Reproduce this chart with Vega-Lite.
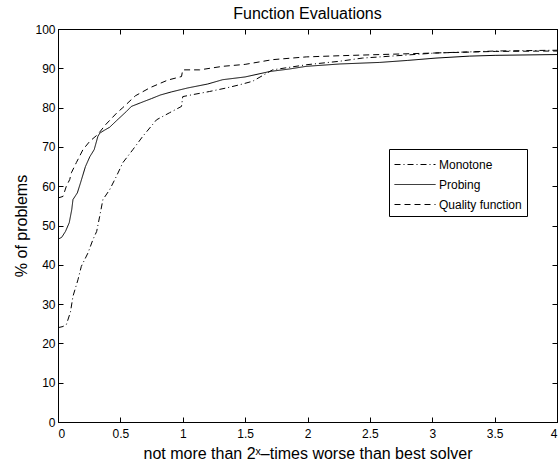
{
 "$schema": "https://vega.github.io/schema/vega-lite/v6.json",
 "width": 499,
 "height": 393,
 "autosize": {"type": "none"},
 "padding": {"left": 58, "top": 29, "right": 3, "bottom": 48},
 "background": "white",
 "config": {
  "font": "Liberation Sans",
  "view": {"stroke": "black", "strokeWidth": 1},
  "axis": {
   "grid": false, "domainColor": "black", "tickColor": "black", "tickSize": -5,
   "labelColor": "black", "labelFontSize": 12, "titleColor": "black",
   "titleFontSize": 16, "titleFontWeight": "normal"
  },
  "legend": {"labelFontSize": 12, "labelColor": "black"}
 },
 "title": {"text": "Function Evaluations", "fontSize": 16, "fontWeight": "normal", "color": "black", "offset": 1},
 "data": {"values": [
  {"series":"Probing","x":0,"y":46.5},{"series":"Probing","x":0.03,"y":47},{"series":"Probing","x":0.06,"y":48.5},{"series":"Probing","x":0.09,"y":50.7},{"series":"Probing","x":0.11,"y":54},{"series":"Probing","x":0.12,"y":56.6},{"series":"Probing","x":0.155,"y":58.3},{"series":"Probing","x":0.18,"y":60.8},{"series":"Probing","x":0.22,"y":65},{"series":"Probing","x":0.255,"y":67.5},{"series":"Probing","x":0.29,"y":69.3},{"series":"Probing","x":0.32,"y":72.7},{"series":"Probing","x":0.335,"y":73.5},{"series":"Probing","x":0.37,"y":74.2},{"series":"Probing","x":0.414,"y":75},{"series":"Probing","x":0.47,"y":76.7},{"series":"Probing","x":0.548,"y":79},{"series":"Probing","x":0.588,"y":80.3},{"series":"Probing","x":0.66,"y":81.2},{"series":"Probing","x":0.75,"y":82.3},{"series":"Probing","x":0.82,"y":83.2},{"series":"Probing","x":0.91,"y":84},{"series":"Probing","x":1.04,"y":85},{"series":"Probing","x":1.2,"y":86},{"series":"Probing","x":1.32,"y":87.1},{"series":"Probing","x":1.5,"y":87.8},{"series":"Probing","x":1.7,"y":89.2},{"series":"Probing","x":1.85,"y":89.8},{"series":"Probing","x":1.99,"y":90.5},{"series":"Probing","x":2.26,"y":91.1},{"series":"Probing","x":2.58,"y":91.5},{"series":"Probing","x":2.8,"y":92},{"series":"Probing","x":3.03,"y":92.6},{"series":"Probing","x":3.3,"y":93.1},{"series":"Probing","x":3.51,"y":93.3},{"series":"Probing","x":4,"y":93.5},
  {"series":"Quality function","x":0,"y":57},{"series":"Quality function","x":0.04,"y":57.4},{"series":"Quality function","x":0.067,"y":60},{"series":"Quality function","x":0.094,"y":61.7},{"series":"Quality function","x":0.107,"y":63.4},{"series":"Quality function","x":0.147,"y":66},{"series":"Quality function","x":0.2,"y":69.3},{"series":"Quality function","x":0.254,"y":71.4},{"series":"Quality function","x":0.32,"y":73.2},{"series":"Quality function","x":0.38,"y":75.6},{"series":"Quality function","x":0.47,"y":78.6},{"series":"Quality function","x":0.52,"y":80},{"series":"Quality function","x":0.62,"y":83},{"series":"Quality function","x":0.74,"y":85.1},{"series":"Quality function","x":0.88,"y":87},{"series":"Quality function","x":0.99,"y":87.9},{"series":"Quality function","x":1.0,"y":89.6},{"series":"Quality function","x":1.135,"y":89.6},{"series":"Quality function","x":1.32,"y":90.5},{"series":"Quality function","x":1.5,"y":91},{"series":"Quality function","x":1.72,"y":92.2},{"series":"Quality function","x":1.99,"y":92.9},{"series":"Quality function","x":2.26,"y":93.2},{"series":"Quality function","x":2.58,"y":93.5},{"series":"Quality function","x":3.03,"y":93.9},{"series":"Quality function","x":3.51,"y":94.3},{"series":"Quality function","x":4,"y":94.4},
  {"series":"Monotone","x":0,"y":24},{"series":"Monotone","x":0.04,"y":24.3},{"series":"Monotone","x":0.067,"y":24.8},{"series":"Monotone","x":0.1,"y":28},{"series":"Monotone","x":0.12,"y":32},{"series":"Monotone","x":0.16,"y":36.2},{"series":"Monotone","x":0.187,"y":39.6},{"series":"Monotone","x":0.24,"y":43},{"series":"Monotone","x":0.28,"y":46.4},{"series":"Monotone","x":0.31,"y":48.5},{"series":"Monotone","x":0.334,"y":52.3},{"series":"Monotone","x":0.36,"y":56.6},{"series":"Monotone","x":0.414,"y":59.1},{"series":"Monotone","x":0.468,"y":62.5},{"series":"Monotone","x":0.52,"y":66},{"series":"Monotone","x":0.6,"y":69.3},{"series":"Monotone","x":0.68,"y":72.7},{"series":"Monotone","x":0.79,"y":76.9},{"series":"Monotone","x":0.895,"y":78.7},{"series":"Monotone","x":0.99,"y":80.3},{"series":"Monotone","x":1.0,"y":82.8},{"series":"Monotone","x":1.08,"y":83.3},{"series":"Monotone","x":1.215,"y":84.1},{"series":"Monotone","x":1.35,"y":85},{"series":"Monotone","x":1.455,"y":85.8},{"series":"Monotone","x":1.56,"y":86.7},{"series":"Monotone","x":1.72,"y":89.6},{"series":"Monotone","x":1.99,"y":90.9},{"series":"Monotone","x":2.26,"y":91.8},{"series":"Monotone","x":2.44,"y":92.6},{"series":"Monotone","x":2.58,"y":92.9},{"series":"Monotone","x":3.03,"y":93.9},{"series":"Monotone","x":3.51,"y":94.4},{"series":"Monotone","x":4,"y":94.6}
 ]},
 "layer": [
  {
   "mark": {"type": "line", "color": "black", "strokeWidth": 1},
   "encoding": {
    "x": {"field": "x", "type": "quantitative", "scale": {"domain": [0, 4], "nice": false},
          "axis": {"orient": "bottom", "values": [0,0.5,1,1.5,2,2.5,3,3.5,4], "format": "~r", "labelPadding": 11, "title": "not more than 2ˣ–times worse than best solver", "titlePadding": 6}},
    "y": {"field": "y", "type": "quantitative", "scale": {"domain": [0, 100], "nice": false},
          "axis": {"orient": "left", "values": [0,10,20,30,40,50,60,70,80,90,100], "format": "d", "labelPadding": 8, "title": "% of problems", "titlePadding": 5}},
    "strokeDash": {"field": "series", "type": "nominal",
     "scale": {"domain": ["Monotone", "Probing", "Quality function"], "range": [[6,3,1,3],[1,0],[6,4]]},
     "legend": {"title": null, "orient": "none", "legendX": 331, "legendY": 120, "symbolType": "M-1,0H3.1", "symbolSize": 400, "symbolStrokeWidth": 1, "symbolStrokeColor": "black", "symbolFillColor": "transparent", "strokeColor": "black", "fillColor": "white", "padding": 5, "labelOffset": 24, "rowPadding": 3}}
   }
  },
  {
   "mark": {"type": "point", "opacity": 0},
   "encoding": {
    "x": {"field": "x", "type": "quantitative", "axis": {"orient": "top", "values": [0,0.5,1,1.5,2,2.5,3,3.5,4], "labels": false, "title": null}},
    "y": {"field": "y", "type": "quantitative", "axis": {"orient": "right", "values": [0,10,20,30,40,50,60,70,80,90,100], "labels": false, "title": null}}
   }
  }
 ],
 "resolve": {"axis": {"x": "independent", "y": "independent"}}
}
